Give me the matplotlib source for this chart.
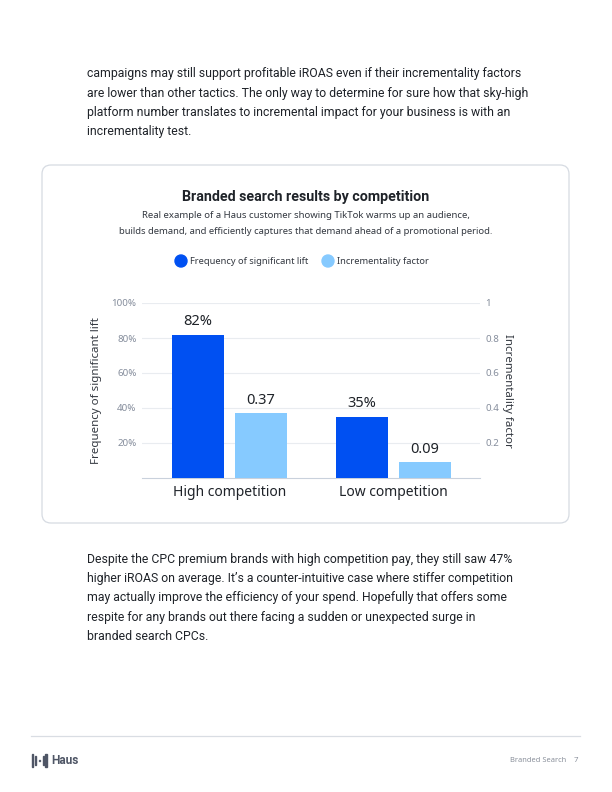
import matplotlib.pyplot as plt
from matplotlib.patches import FancyBboxPatch, Rectangle, Circle
import numpy as np

plt.rcParams['font.family'] = ['Noto Sans', 'DejaVu Sans']

# data
categories = ['High competition', 'Low competition']
freq_lift = [82, 35]            # percent
incr_factor = [0.37, 0.09]
freq_labels = ['82%', '35%']
incr_labels = ['0.37', '0.09']
left_ticks = [20, 40, 60, 80, 100]
left_tick_labels = ['20%', '40%', '60%', '80%', '100%']
right_ticks = [0.2, 0.4, 0.6, 0.8, 1.0]
right_tick_labels = ['0.2', '0.4', '0.6', '0.8', '1']

para_top = [
    'campaigns may still support profitable iROAS even if their incrementality factors',
    'are lower than other tactics. The only way to determine for sure how that sky-high',
    'platform number translates to incremental impact for your business is with an',
    'incrementality test.',
]
para_bottom = [
    'Despite the CPC premium brands with high competition pay, they still saw 47%',
    'higher iROAS on average. It\u2019s a counter-intuitive case where stiffer competition',
    'may actually improve the efficiency of your spend. Hopefully that offers some',
    'respite for any brands out there facing a sudden or unexpected surge in',
    'branded search CPCs.',
]

BLUE = '#0050f2'
LIGHT = '#86caff'
TEXT = '#1f2329'
SUB = '#333840'
GRAY = '#858d9c'
BODY_FONT = ['Roboto', 'DejaVu Sans']

W, H = 612, 792
fig = plt.figure(figsize=(W / 100, H / 100), dpi=100)

# page layer in pixel coordinates
bg = fig.add_axes([0, 0, 1, 1], zorder=0)
bg.set_xlim(0, W)
bg.set_ylim(H, 0)
bg.axis('off')

for i, line in enumerate(para_top):
    bg.text(87, 74 + i * 19.3, line, fontsize=8.8, color=TEXT, va='center', family=BODY_FONT)
for i, line in enumerate(para_bottom):
    bg.text(87, 559.5 + i * 19.2, line, fontsize=8.8, color=TEXT, va='center', family=BODY_FONT)

# card
card = FancyBboxPatch((42, 165), 527, 358, boxstyle='round,pad=0,rounding_size=9',
                      facecolor='white', edgecolor='#d6dbe2', linewidth=0.9)
bg.add_patch(card)

bg.text(306, 197, 'Branded search results by competition', fontsize=10.3,
        fontweight='bold', color=TEXT, ha='center', va='center', family=BODY_FONT)
bg.text(306, 216, 'Real example of a Haus customer showing TikTok warms up an audience,',
        fontsize=6.9, color=SUB, ha='center', va='center')
bg.text(306, 232, 'builds demand, and efficiently captures that demand ahead of a promotional period.',
        fontsize=6.8, color=SUB, ha='center', va='center')

# legend
bg.add_patch(Circle((181, 261), 6, color=BLUE))
bg.text(190, 261, 'Frequency of significant lift', fontsize=6.7, color=SUB, va='center')
bg.add_patch(Circle((328, 261), 6, color=LIGHT))
bg.text(337, 261, 'Incrementality factor', fontsize=6.7, color=SUB, va='center')

# footer
bg.plot([31, 580], [736, 736], color='#d9dde3', linewidth=0.9)
logo = '#4f5666'
bg.add_patch(Rectangle((31.5, 754), 1.6, 13, color=logo))
bg.add_patch(Rectangle((35, 756), 0.9, 9, color=logo))
bg.add_patch(Rectangle((38.6, 759.6), 1.5, 1.5, color=logo))
bg.add_patch(Rectangle((42.6, 756), 0.9, 9, color=logo))
bg.add_patch(Rectangle((45.2, 754), 1.6, 13, color=logo))
bg.text(51, 760.5, 'Haus', fontsize=8.6, fontweight='bold', color=logo, va='center',
        family=BODY_FONT)
bg.text(510, 760.5, 'Branded Search', fontsize=5.4, color='#8a909b', va='center')
bg.text(578, 760.5, '7', fontsize=5.6, color='#8a909b', va='center', ha='right')

# chart
ax = fig.add_axes([142 / W, 1 - 478 / H, 338 / W, 175 / H], zorder=2)
ax.patch.set_alpha(0)
ax2 = ax.twinx()

x = np.arange(len(categories))
width = 0.317
off = 0.192

ax.bar(x - off, freq_lift, width, color=BLUE, zorder=3)
ax2.bar(x + off, incr_factor, width, color=LIGHT, zorder=3)

ax.set_xlim(-0.534, 1.527)
ax.set_ylim(0, 100)
ax2.set_ylim(0, 1)

for xi, v, lab in zip(x, freq_lift, freq_labels):
    ax.annotate(lab, (xi - off, v), xytext=(0, 4), textcoords='offset points',
                ha='center', va='bottom', fontsize=10.5, color=TEXT)
for xi, v, lab in zip(x, incr_factor, incr_labels):
    ax2.annotate(lab, (xi + off, v), xytext=(0, 4), textcoords='offset points',
                 ha='center', va='bottom', fontsize=10.5, color=TEXT)

ax.set_yticks(left_ticks)
ax.set_yticklabels(left_tick_labels)
ax2.set_yticks(right_ticks)
ax2.set_yticklabels(right_tick_labels)
ax.tick_params(axis='y', length=0, pad=4, labelsize=7.0, labelcolor=GRAY)
ax2.tick_params(axis='y', length=0, pad=4, labelsize=7.0, labelcolor=GRAY)
ax.set_xticks(x)
ax.set_xticklabels(categories)
ax.tick_params(axis='x', length=0, pad=5, labelsize=10, labelcolor=TEXT)

ax.grid(axis='y', color='#e9ecf0', linewidth=0.8, zorder=0)
ax.set_axisbelow(True)
for a in (ax, ax2):
    for s in a.spines.values():
        s.set_visible(False)
ax.spines['bottom'].set_visible(True)
ax.spines['bottom'].set_color('#c9d1dc')
ax.spines['bottom'].set_linewidth(0.8)

ax.set_ylabel('Frequency of significant lift', fontsize=8.3, color=SUB)
ax2.set_ylabel('Incrementality factor', fontsize=8.3, color=SUB, rotation=-90)
ax.yaxis.set_label_coords(-0.138 + 7 / 338, 0.5)
ax2.yaxis.set_label_coords(1 + 33 / 338, 0.5)

fig.savefig('out.png', dpi=100)
